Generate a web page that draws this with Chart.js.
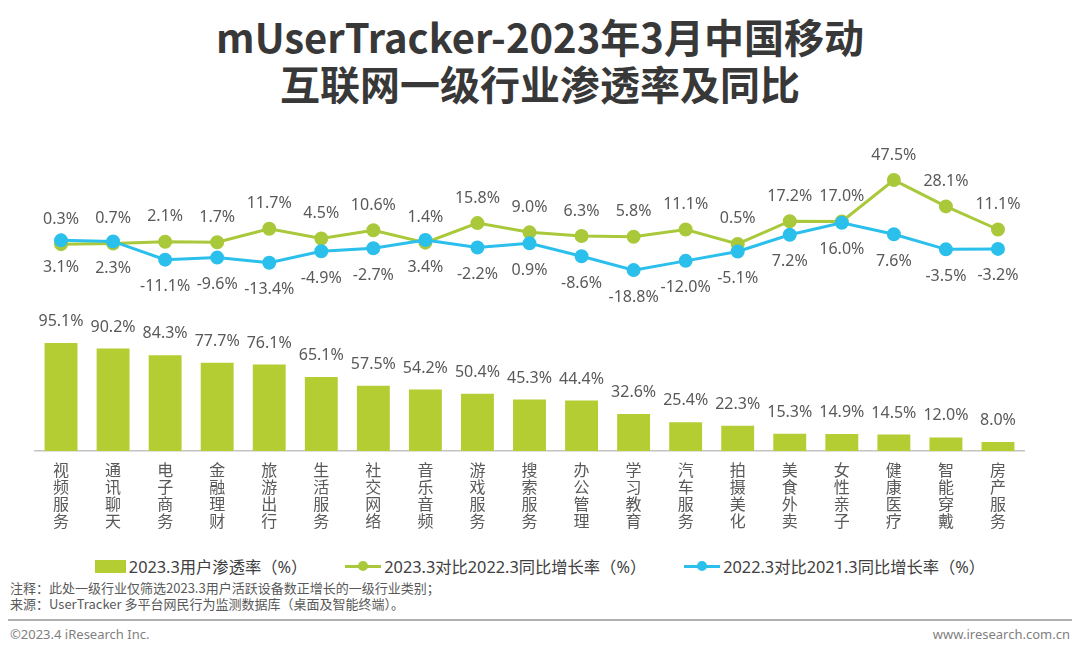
<!DOCTYPE html>
<html>
<head>
<meta charset="utf-8">
<script src="https://cdn.jsdelivr.net/npm/chart.js@4.4.0/dist/chart.umd.min.js"></script>
<style>
  html, body { margin: 0; padding: 0; background: #fff; }
  body { width: 1080px; height: 655px; position: relative; overflow: hidden;
         font-family: "Noto Sans", "Noto Sans CJK SC", sans-serif; }
  #title { position: absolute; left: 0; top: 13px; width: 1080px; text-align: center;
           font: bold 40px/47px "Noto Sans CJK SC", "Noto Sans", sans-serif; color: #383838; }
  #wrap { position: absolute; left: 0; top: 120px; width: 1080px; height: 420px; }
  #legend { position: absolute; left: 0; top: 554px; width: 1080px; height: 24px;
            display: flex; justify-content: center; align-items: center;
            font-size: 16.3px; color: #404040; }
  .item { display: flex; align-items: center; margin: 0 19px; white-space: nowrap; }
  .sw { position: relative; margin-right: 3px; }
  .note { position: absolute; left: 10px; font-size: 13px; color: #595959;
          font-family: "Noto Sans CJK SC", sans-serif; }
  #rule { position: absolute; left: 8px; right: 8px; top: 619px; height: 0; border-top: 2px solid #b0b0b0; }
  .foot { position: absolute; top: 625px; font-size: 13px; color: #7f7f7f; }
</style>
</head>
<body>
<div id="title">mUserTracker-2023年3月中国移动<br>互联网一级行业渗透率及同比</div>
<div id="wrap"><canvas id="chart"></canvas></div>
<div id="legend"></div>
<div class="note" style="top:578px">注释：此处一级行业仅筛选2023.3用户活跃设备数正增长的一级行业类别；</div>
<div class="note" style="top:594px">来源：UserTracker 多平台网民行为监测数据库（桌面及智能终端）。</div>
<div id="rule"></div>
<div class="foot" style="left:10px">©2023.4 iResearch Inc.</div>
<div class="foot" style="right:10px">www.iresearch.com.cn</div>
<script>
// 行业类别
const categories = ['视频服务', '通讯聊天', '电子商务', '金融理财', '旅游出行', '生活服务', '社交网络',
  '音乐音频', '游戏服务', '搜索服务', '办公管理', '学习教育', '汽车服务', '拍摄美化', '美食外卖',
  '女性亲子', '健康医疗', '智能穿戴', '房产服务'];

// 2023.3用户渗透率（%）
const penetration = [95.1, 90.2, 84.3, 77.7, 76.1, 65.1, 57.5, 54.2, 50.4, 45.3, 44.4, 32.6, 25.4,
  22.3, 15.3, 14.9, 14.5, 12.0, 8.0];

// 2023.3对比2022.3同比增长率（%）
const growth2023 = [0.3, 0.7, 2.1, 1.7, 11.7, 4.5, 10.6, 1.4, 15.8, 9.0, 6.3, 5.8, 11.1, 0.5, 17.2,
  17.0, 47.5, 28.1, 11.1];

// 2022.3对比2021.3同比增长率（%）
const growth2022 = [3.1, 2.3, -11.1, -9.6, -13.4, -4.9, -2.7, 3.4, -2.2, 0.9, -8.6, -18.8, -12.0,
  -5.1, 7.2, 16.0, 7.6, -3.5, -3.2];

const seriesNames = ['2023.3用户渗透率（%）', '2023.3对比2022.3同比增长率（%）', '2022.3对比2021.3同比增长率（%）'];

const BAR = '#b3cd32';
const GREEN = '#a9c83a';
const BLUE = '#2bbfec';

// 数据标签（柱子上方、绿线上方、蓝线下方）
const valueLabels = {
  id: 'valueLabels',
  afterDatasetsDraw(chart) {
    const ctx = chart.ctx;
    ctx.save();
    ctx.font = '16px "Noto Sans", "Open Sans", sans-serif';
    ctx.fillStyle = '#595959';
    ctx.textAlign = 'center';
    ctx.textBaseline = 'middle';
    const offsets = [-21.5, -25, 27];
    chart.data.datasets.forEach((ds, i) => {
      const meta = chart.getDatasetMeta(i);
      meta.data.forEach((el, j) => {
        ctx.fillText(ds.data[j].toFixed(1) + '%', el.x, el.y + offsets[i]);
      });
    });
    ctx.restore();
  }
};

const chart = new Chart(document.getElementById('chart'), {
  type: 'bar',
  data: {
    labels: categories.map(c => c.split('')),
    datasets: [
      {
        type: 'bar',
        label: seriesNames[0],
        data: penetration,
        backgroundColor: BAR,
        yAxisID: 'y',
        barPercentage: 0.8,
        categoryPercentage: 0.79,
        order: 3
      },
      {
        type: 'line',
        label: seriesNames[1],
        data: growth2023,
        borderColor: GREEN,
        backgroundColor: GREEN,
        borderWidth: 3,
        pointRadius: 5.5,
        pointHoverRadius: 5.5,
        yAxisID: 'y1',
        order: 2
      },
      {
        type: 'line',
        label: seriesNames[2],
        data: growth2022,
        borderColor: BLUE,
        backgroundColor: BLUE,
        borderWidth: 3,
        pointRadius: 5.5,
        pointHoverRadius: 5.5,
        yAxisID: 'y1',
        order: 1
      }
    ]
  },
  options: {
    responsive: true,
    maintainAspectRatio: false,
    animation: false,
    layout: { padding: { top: 20, left: 35, right: 56, bottom: 0 } },
    plugins: {
      legend: { display: false },
      tooltip: { enabled: false }
    },
    scales: {
      x: {
        grid: { display: false },
        border: { display: true, color: '#c4c4c4', width: 1.5 },
        ticks: {
          color: '#595959',
          padding: 2,
          maxRotation: 0,
          autoSkip: false,
          font: { size: 16, lineHeight: 1.07, family: '"Noto Sans CJK SC", sans-serif' }
        },
        afterFit(scale) { scale.height = 89; }
      },
      y: { display: false, min: 0, max: 274 },
      y1: { display: false, min: -152, max: 77 }
    }
  },
  plugins: [valueLabels]
});

// HTML 图例
const legendEl = document.getElementById('legend');
chart.data.datasets.forEach(ds => {
  const item = document.createElement('div');
  item.className = 'item';
  const sw = document.createElement('div');
  sw.className = 'sw';
  if (ds.type === 'bar') {
    sw.style.cssText = 'width:31px;height:13px;background:' + ds.backgroundColor;
  } else {
    sw.style.cssText = 'width:36px;height:12px;';
    sw.innerHTML = '<div style="position:absolute;left:0;top:4.5px;width:36px;height:3px;background:' + ds.borderColor +
      '"></div><div style="position:absolute;left:13px;top:0;width:10px;height:10px;border-radius:50%;margin-top:1px;background:' +
      ds.borderColor + '"></div>';
  }
  item.appendChild(sw);
  const t = document.createElement('span');
  t.textContent = ds.label;
  item.appendChild(t);
  legendEl.appendChild(item);
});
</script>
</body>
</html>
